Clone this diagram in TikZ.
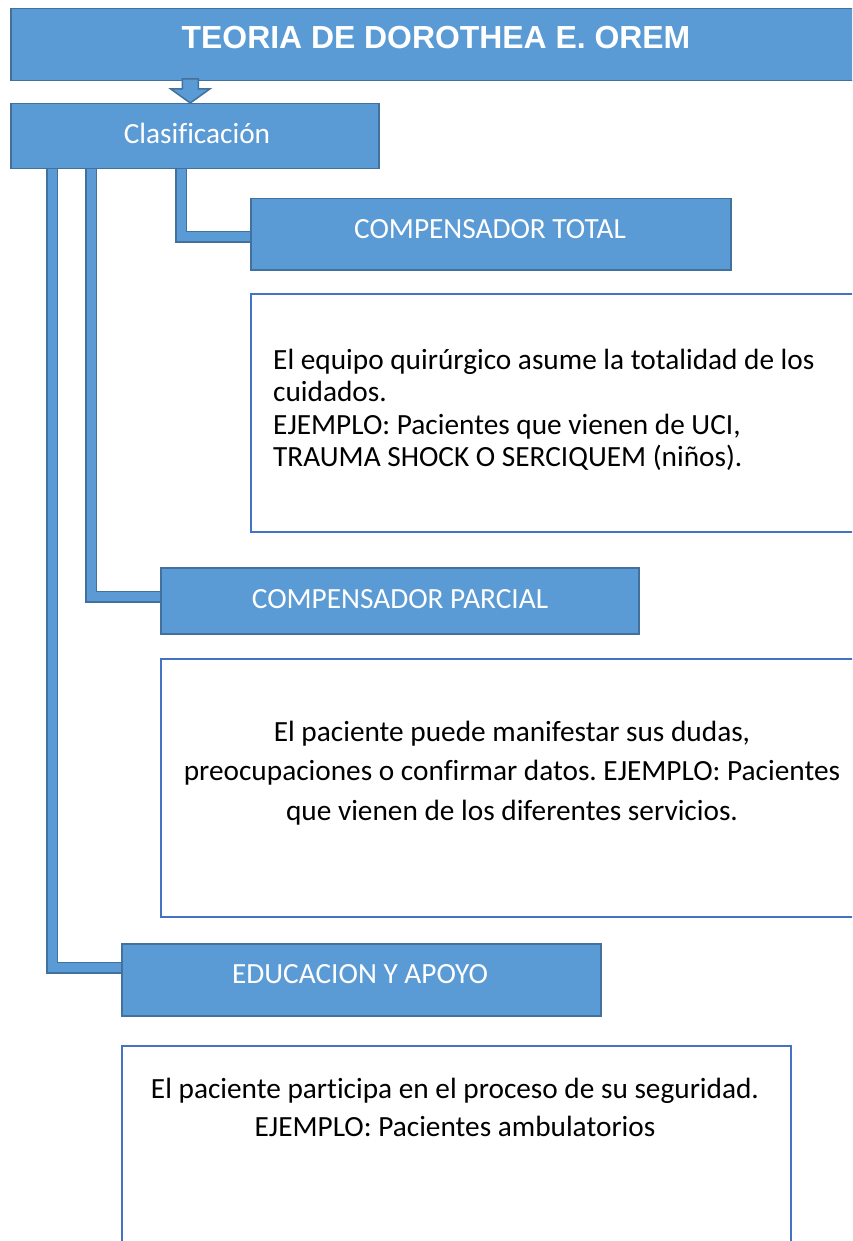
\documentclass[tikz,border=0pt]{standalone}
\usepackage{fontspec}
\usetikzlibrary{backgrounds}
\setmainfont{Carlito}[Ligatures=NoCommon]
\newfontfamily\titlefont{Liberation Sans}
\definecolor{bfill}{HTML}{5B9BD5}
\definecolor{bdark}{HTML}{41719C}
\definecolor{tline}{HTML}{4472C4}
\frenchspacing
\begin{document}
\begin{tikzpicture}[x=1pt,y=-1pt,
  bluebox/.style={draw=bdark, line width=1.5pt, fill=bfill, inner sep=0pt, anchor=north west},
  textbox/.style={draw=tline, line width=2pt, fill=white, inner sep=0pt, anchor=north west},
  conn/.style={draw=bdark, line width=1.5pt, double=bfill, double distance=9pt},
  blockarrow/.style={draw=bdark, line width=1.5pt, fill=bfill},
  lbl/.style={text=white, inner sep=0pt, font=\fontsize{29.3}{35}\selectfont},
  body/.style={inner sep=0pt}]
\useasboundingbox (0,0) rectangle (852,1241);
\clip (0,0) rectangle (852,1241);
% boxes
\node[bluebox, minimum width=860pt, minimum height=72pt] (title) at (10,8) {};
\node[bluebox, minimum width=368pt, minimum height=65pt] (clas) at (10,103) {};
\node[bluebox, minimum width=480pt, minimum height=71pt] (total) at (250,198) {};
\node[textbox, minimum width=620pt, minimum height=238pt] (box1) at (250,293) {};
\node[bluebox, minimum width=478pt, minimum height=66pt] (parcial) at (160,567) {};
\node[textbox, minimum width=710pt, minimum height=258pt] (box2) at (160,658) {};
\node[bluebox, minimum width=479pt, minimum height=72pt] (edu) at (121,943) {};
\node[textbox, minimum width=669pt, minimum height=240pt] (box3) at (121,1045) {};
% connectors
\begin{scope}[on background layer]
\draw[conn] ([xshift=42pt]clas.south west) |- ([yshift=12pt]edu.west);
\draw[conn] ([xshift=81pt]clas.south west) |- ([yshift=4pt]parcial.west);
\draw[conn] ([xshift=171pt]clas.south west) |- ([yshift=-2.5pt]total.west);
\end{scope}
% block arrow
\coordinate (tip) at ([xshift=-4.5pt]clas.north);
\draw[blockarrow] (tip) -- ++(-19.5,-14) -- ++(11.5,0) -- ++(0,-10) -- ++(16,0) -- ++(0,10) -- ++(11.5,0) -- cycle;
% texts
\node[text=white, inner sep=0pt, font=\titlefont\bfseries\fontsize{31.9}{38}\selectfont] (ttitle) at (436,38) {TEORIA DE DOROTHEA E. OREM};
\node[lbl] (tclas) at (197,133) {Clasificación};
\node[lbl] (ttotal) at (490,229) {COMPENSADOR TOTAL};
\node[lbl] (tparcial) at (400,599) {COMPENSADOR PARCIAL};
\node[lbl] (tedu) at (360,974) {EDUCACION Y APOYO};
\node[body, anchor=west, align=left, font=\fontsize{29.3}{32.3}\selectfont] (t1) at (273,410) {El equipo quirúrgico asume la totalidad de los\\cuidados.\\EJEMPLO: Pacientes que vienen de UCI,\\TRAUMA SHOCK O SERCIQUEM (niños).};
\node[body, align=center, font=\fontsize{29.3}{39.5}\selectfont] (t2) at (512,773) {El paciente puede manifestar sus dudas,\\preocupaciones o confirmar datos. EJEMPLO: Pacientes\\que vienen de los diferentes servicios.};
\node[body, align=center, font=\fontsize{29.3}{38}\selectfont] (t3) at (455,1107) {El paciente participa en el proceso de su seguridad.\\EJEMPLO: Pacientes ambulatorios};
\end{tikzpicture}
\end{document}
